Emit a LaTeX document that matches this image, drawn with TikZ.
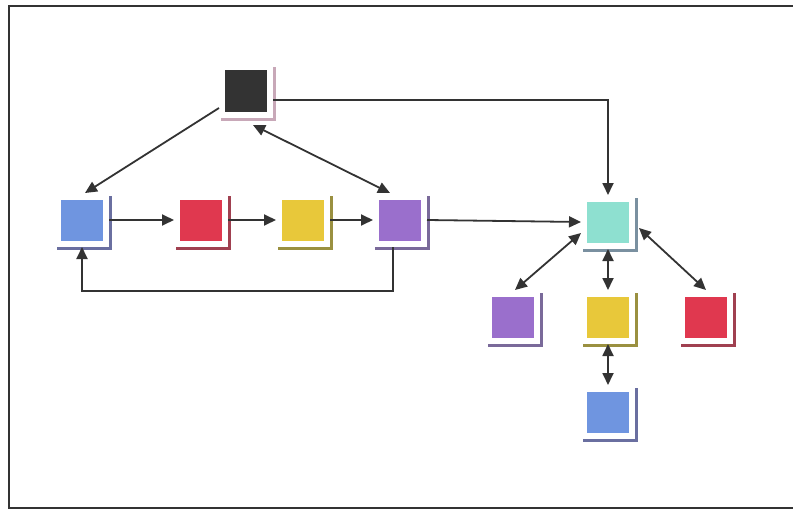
\documentclass[tikz,border=0pt]{standalone}
\usetikzlibrary{arrows.meta,calc}
\definecolor{cblack}{HTML}{333333}\definecolor{sblack}{HTML}{C8A8B8}
\definecolor{cblue}{HTML}{6F95E0}\definecolor{sblue}{HTML}{6A6FA0}
\definecolor{cred}{HTML}{E0384F}\definecolor{sred}{HTML}{A04050}
\definecolor{cyellow}{HTML}{E8C83A}\definecolor{syellow}{HTML}{9A9040}
\definecolor{cpurple}{HTML}{9A6FCC}\definecolor{spurple}{HTML}{7A6A9A}
\definecolor{cteal}{HTML}{8EE0D0}\definecolor{steal}{HTML}{7A90A0}
\definecolor{lne}{HTML}{333333}
\tikzset{
  whitebox/.style={draw=none,fill=white,minimum width=54pt,minimum height=54pt,inner sep=0pt,outer sep=0pt},
  colsq/.style={draw=none,minimum width=42pt,minimum height=41pt,inner sep=0pt},
  arr/.style={draw=lne,line width=1.8pt,-{Triangle[length=12pt,width=11pt]}},
  darr/.style={draw=lne,line width=1.8pt,{Triangle[length=12pt,width=11pt]}-{Triangle[length=12pt,width=11pt]}},
  frame/.style={draw=lne,line width=2pt}
}
\newcommand\sqnode[5]{%
  \fill[#5] (#2-25,#3-24) rectangle (#2+29.5,#3+30);
  \node[whitebox] (#1) at (#2,#3) {};
  \node[colsq,fill=#4] (#1sq) at (#2,#3) {};
}
\begin{document}
\begin{tikzpicture}[x=1pt,y=-1pt]
\useasboundingbox (0,0) rectangle (793,511);
\fill[white] (0,0) rectangle (793,511);
\draw[frame] (795,6) -- (9,6) -- (9,508) -- (795,508);
\sqnode{black}{246}{91}{cblack}{sblack}
\sqnode{blue}{82}{220}{cblue}{sblue}
\sqnode{red}{201}{220}{cred}{sred}
\sqnode{yellow}{303}{220}{cyellow}{syellow}
\sqnode{purple}{400}{220}{cpurple}{spurple}
\sqnode{teal}{608}{222}{cteal}{steal}
\sqnode{purpleb}{513}{317}{cpurple}{spurple}
\sqnode{yellowb}{608}{317}{cyellow}{syellow}
\sqnode{redb}{706}{317}{cred}{sred}
\sqnode{blueb}{608}{412}{cblue}{sblue}
\coordinate (loopc) at (82,291);
\draw[arr] ([yshift=-17pt]black.west) -- ([xshift=3pt]blue.north);
\draw[darr] ([xshift=7pt,yshift=-7pt]black.south) -- ([xshift=-10pt]purple.north);
\draw[arr] ([yshift=-9pt]black.east) -| (teal.north);
\draw[arr] (blue.east) -- (red.west);
\draw[arr] (red.east) -- (yellow.west);
\draw[arr] (yellow.east) -- (purple.west);
\draw[arr] (purple.east) -- (teal.west);
\draw[arr] ([xshift=-7pt]purple.south) |- (loopc) -- (blue.south);
\draw[darr] ([yshift=-11pt]teal.west) -- ([xshift=2pt]purpleb.north);
\draw[darr] (teal.south) -- (yellowb.north);
\draw[darr] ([xshift=4pt,yshift=-6pt]teal.east) -- (redb.north);
\draw[darr] (yellowb.south) -- (blueb.north);
\end{tikzpicture}
\end{document}
